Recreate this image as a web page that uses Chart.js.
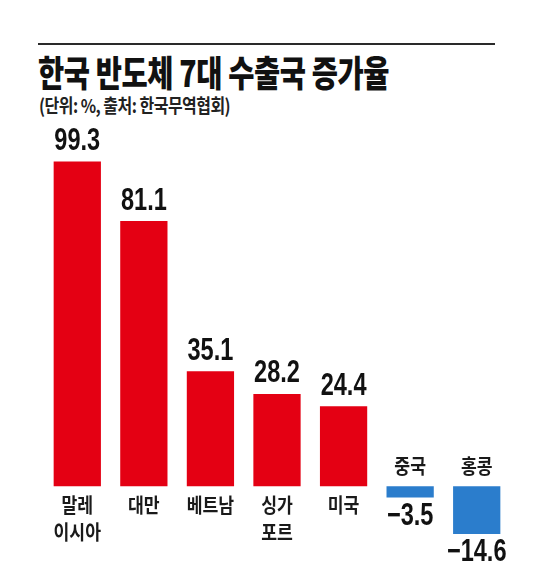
<!DOCTYPE html>
<html>
<head>
<meta charset="utf-8">
<script src="https://cdn.jsdelivr.net/npm/chart.js@4/dist/chart.umd.min.js"></script>
<style>
  html, body { margin: 0; padding: 0; background: #ffffff; }
  #wrap { position: relative; width: 540px; height: 582px; overflow: hidden; background: #fff; }
  #rule { position: absolute; left: 38px; top: 43px; width: 457px; height: 2px; background: #2a2a2a; }
  #title { position: absolute; left: 38px; top: 52px; font-family: 'Noto Sans CJK KR', sans-serif; font-weight: 900;
           font-size: 36.5px; line-height: 40px; color: #111; white-space: nowrap; transform: scaleX(0.78); transform-origin: left top; letter-spacing: -0.5px; }
  #sub { position: absolute; left: 39px; top: 93px; font-family: 'Noto Sans CJK KR', sans-serif; font-weight: 700;
         font-size: 19px; line-height: 24px; color: #222; white-space: nowrap; transform: scaleX(0.84); transform-origin: left top; letter-spacing: -0.6px; }
  #c { position: absolute; left: 0; top: 0; }
</style>
</head>
<body>
<div id="wrap">
  <div id="rule"></div>
  <div id="title">한국 반도체 7대 수출국 증가율</div>
  <div id="sub">(단위: %, 출처: 한국무역협회)</div>
  <canvas id="c" width="540" height="582"></canvas>
</div>
<script>
// ---- data ----
const categories = [["말레", "이시아"], ["대만"], ["베트남"], ["싱가", "포르"], ["미국"], ["중국"], ["홍콩"]];
const values = [99.3, 81.1, 35.1, 28.2, 24.4, -3.5, -14.6];
const posColor = "#e40013";
const negColor = "#2b7dcc";

function drawCondensed(ctx, text, x, y, font, sx, color) {
  ctx.save();
  ctx.translate(x, y);
  ctx.scale(sx, 1);
  ctx.font = font;
  ctx.fillStyle = color;
  ctx.textAlign = "center";
  ctx.textBaseline = "middle";
  ctx.fillText(text, 0, 0);
  ctx.restore();
}

const labelPlugin = {
  id: "barLabels",
  afterDatasetsDraw(chart) {
    const ctx = chart.ctx;
    const meta = chart.getDatasetMeta(0);
    const valFont = "bold 31px 'Liberation Sans', Arial, sans-serif";
    const catFont = "bold 20px 'Noto Sans CJK KR', 'Noto Sans CJK SC', sans-serif";
    meta.data.forEach((el, i) => {
      const v = values[i];
      const lines = categories[i];
      const x = el.x;
      const txt = v < 0 ? "\u2212" + Math.abs(v).toFixed(1) : v.toFixed(1);
      if (v >= 0) {
        drawCondensed(ctx, txt, x, el.y - 20, valFont, 0.76, "#111");
        lines.forEach((l, k) => drawCondensed(ctx, l, x, el.base + 19 + k * 27, catFont, 0.86, "#1a1a1a"));
      } else {
        drawCondensed(ctx, txt, x, el.y + 19, valFont, 0.76, "#111");
        lines.forEach((l, k) => drawCondensed(ctx, l, x, el.base - 20 - (lines.length - 1 - k) * 27, catFont, 0.86, "#1a1a1a"));
      }
    });
  }
};

function build() {
  new Chart(document.getElementById("c"), {
    type: "bar",
    data: {
      labels: categories,
      datasets: [{
        data: values,
        backgroundColor: values.map(v => v >= 0 ? posColor : negColor),
        borderWidth: 0,
        barPercentage: 0.71,
        categoryPercentage: 1.0
      }]
    },
    options: {
      responsive: false,
      animation: false,
      devicePixelRatio: 1,
      layout: { padding: { left: 44, right: 30, top: 133, bottom: 37 } },
      plugins: { legend: { display: false }, tooltip: { enabled: false }, title: { display: false } },
      scales: {
        x: { display: false },
        y: { display: false, min: -18, max: 108 }
      }
    },
    plugins: [labelPlugin]
  });
}

if (document.fonts && document.fonts.load) {
  Promise.all([
    document.fonts.load("bold 20px 'Noto Sans CJK KR'", "말레"),
    document.fonts.load("bold 31px 'Liberation Sans'", "99.3")
  ]).then(build, build);
} else {
  build();
}
</script>
</body>
</html>
